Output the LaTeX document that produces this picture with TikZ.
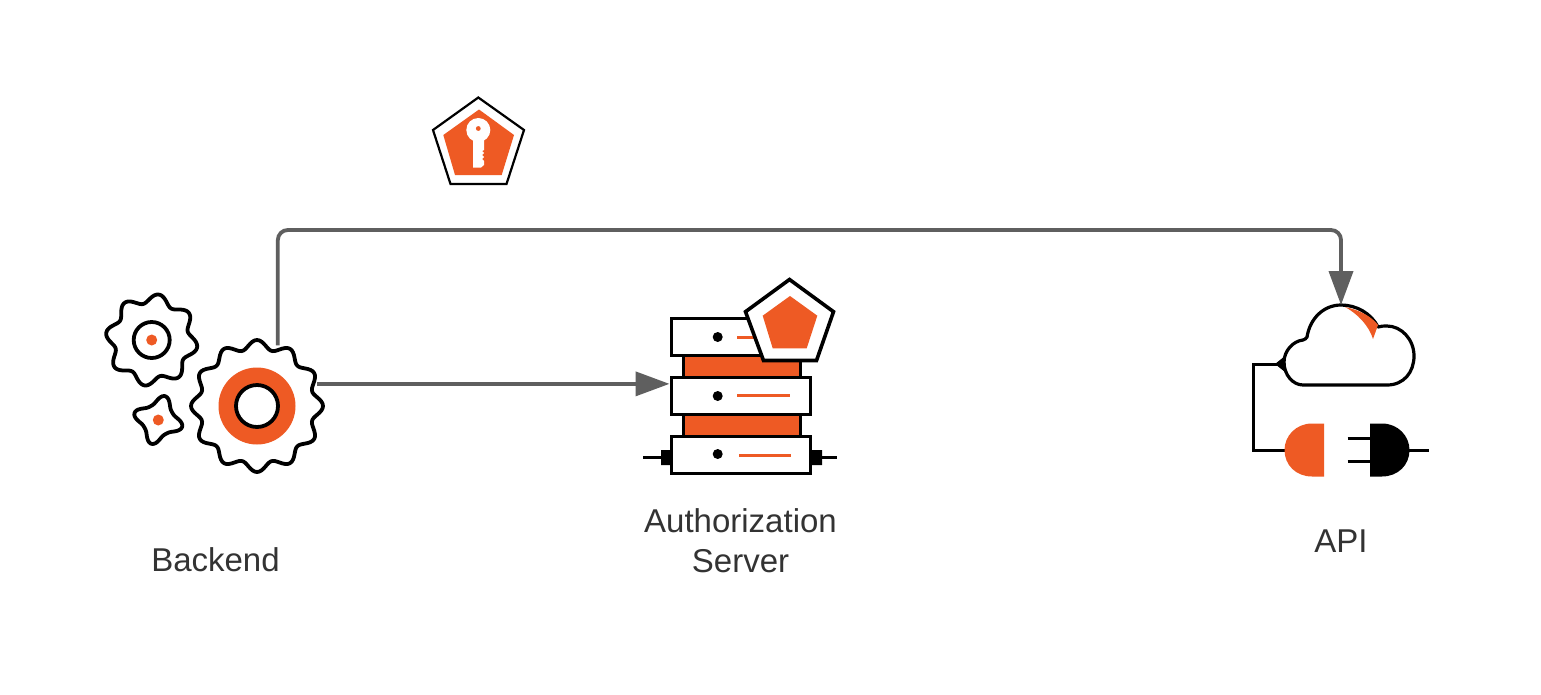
\documentclass[tikz,border=0pt]{standalone}
\usepackage{fontspec}
\setmainfont{Liberation Sans}
\usetikzlibrary{arrows.meta,calc}

\definecolor{iconorange}{HTML}{EE5A24}
\definecolor{flowgray}{HTML}{5F5F5F}
\definecolor{labelgray}{HTML}{333333}

\tikzset{
  iconline/.style={line width=3.8pt,black,line join=round},
  flow/.style={line width=3.8pt,flowgray,-{Triangle[length=34pt,width=24pt]},rounded corners=10pt},
  srvbox/.style={draw=black,fill=white,line width=3.6pt,minimum width=139pt,minimum height=37pt,inner sep=0pt,outer sep=0pt},
  srvled/.style={circle,fill=black,minimum size=10pt,inner sep=0pt,outer sep=0pt},
  label/.style={text=labelgray,font=\fontsize{33}{40}\selectfont,align=center,inner sep=0pt},
}

% gear outline: x, y, radius, tooth height, teeth, turn
\newcommand{\gearshape}[6]{
\draw[iconline,fill=white] plot[domain=0:358,samples=180,smooth cycle]
  ({#1+(#3+#4*cos(#5*(\x-#6)))*cos(\x)},{#2-(#3+#4*cos(#5*(\x-#6)))*sin(\x)});
}

\begin{document}
\begin{tikzpicture}[x=1pt,y=-1pt]
\useasboundingbox[fill=white] (0,0) rectangle (1541,694);

% key badge
\node[inner sep=0pt] (keyBadge) at (478.5,140) {};
\draw[line width=2.2pt,fill=white] (478.3,97.5) -- (524,130) -- (506.5,184) -- (450.5,184) -- (433,130) -- cycle;
\fill[iconorange] (479,109.5) -- (514,135) -- (501.7,175) -- (455,175) -- (443.3,135) -- cycle;
\fill[white] (478.3,130) circle (12);
\fill[white] (473,132) -- (484,132) -- (484,150) -- (482,151) -- (484,153) -- (482,155) -- (484,157) -- (482,159) -- (484,161) -- (484,165) -- (481,167.5) -- (473,167.5) -- cycle;
\fill[iconorange] (478.3,128.5) circle (2.4);

% backend gears
\gearshape{151.7}{340}{41.5}{4.5}{8}{81}
\draw[iconline] (151.7,340) circle (18);
\fill[iconorange] (151.7,340) circle (5.5);
\draw[iconline,fill=white] plot[domain=0:356,samples=90,smooth cycle]
  ({158.3+(19.5+4.5*cos(4*(\x-74))+0.8*cos(8*(\x-74)))*cos(\x)},{420-(19.5+4.5*cos(4*(\x-74))+0.8*cos(8*(\x-74)))*sin(\x)});
\fill[iconorange] (158.3,420) circle (5.5);
\gearshape{257}{406}{61.5}{4.5}{12}{90}
\fill[iconorange] (257,406) circle (38.5);
\draw[iconline,fill=white] (257,406) circle (21);
\node[circle,minimum size=128pt,inner sep=0pt,outer sep=0pt] (bigGear) at (257,406) {};

% authorization server
\draw[line width=3pt,fill=iconorange] (683,355) rectangle (800,437);
\draw[line width=3pt] (643,457.5) -- (662,457.5) (812,457.5) -- (837,457.5);
\fill (661,450) rectangle (671,465) (811,450) rectangle (822,465);
\node[srvbox] (srvTop) at (741,337) {};
\node[srvbox] (srvMid) at (741,396) {};
\node[srvbox] (srvLow) at (741,455) {};
\foreach \y in {337,396,454}
  \node[srvled] at (717.7,\y) {};
\draw[iconorange,line width=3pt] (737,337) -- (760,337) (737,395.5) -- (790,395.5) (739,455) -- (791,455);
\draw[line width=3.6pt,line join=miter,fill=white] (789.5,279.5) -- (833.5,311.7) -- (816.5,360.5) -- (763.5,360.5) -- (745.5,311.7) -- cycle;
\fill[iconorange] (790,296) -- (817.3,315.7) -- (806.7,348.3) -- (772.7,348.3) -- (762.7,315.7) -- cycle;

% api cloud and plug
\draw[line width=3.2pt,line join=round] (1303,385) -- (1387,385)
  .. controls (1404,385) and (1414,372) .. (1414,356)
  .. controls (1414,339) and (1401,326) .. (1387,326)
  .. controls (1384,326) and (1381,326) .. (1378,327)
  .. controls (1371,313) and (1356,305) .. (1341,305)
  .. controls (1324,305) and (1310,318) .. (1307,337)
  .. controls (1306,339) and (1305,339) .. (1303,340)
  .. controls (1293,341) and (1284,351) .. (1284,362)
  .. controls (1284,375) and (1293,385) .. (1303,385) -- cycle;
\fill[iconorange] (1345,307) .. controls (1360,310) and (1372,317) .. (1378,325)
  -- (1373,339) .. controls (1369,326) and (1358,314) .. (1345,307) -- cycle;
\fill (1275,364) -- (1285,356) -- (1285,372) -- cycle;
\draw[line width=3pt,line join=miter] (1280,364) -- (1253.5,364) -- (1253.5,450.5) -- (1286,450.5);
\fill[iconorange] (1324,423.5) -- (1312,423.5) .. controls (1296,423.5) and (1284.5,436) .. (1284.5,450)
  .. controls (1284.5,465) and (1296,476.5) .. (1312,476.5) -- (1324,476.5) -- cycle;
\fill (1370,423.5) -- (1382,423.5) .. controls (1398,423.5) and (1409.5,436) .. (1409.5,450)
  .. controls (1409.5,465) and (1398,476.5) .. (1382,476.5) -- (1370,476.5) -- cycle;
\draw[line width=3pt] (1347.5,438.5) -- (1371,438.5) (1347.5,461.5) -- (1371,461.5) (1408,450) -- (1429,450);
\coordinate (cloudTop) at (1341,305);
\coordinate (routeTop) at (0,230);

% connectors
\draw[flow] (bigGear.71) -- (bigGear.71 |- routeTop) -- (cloudTop |- routeTop) -- (cloudTop);
\draw[flow,shorten >=2pt] ([yshift=-0.8pt]bigGear.21) -- ([yshift=-0.8pt]bigGear.21 -| srvMid.west);

\node[label] (backendLabel) at (215.5,560) {Backend};
\node[label] (authLabel) at (740.5,541) {Authorization\\Server};
\node[label] (apiLabel) at (1341,541) {API};
\end{tikzpicture}
\end{document}
